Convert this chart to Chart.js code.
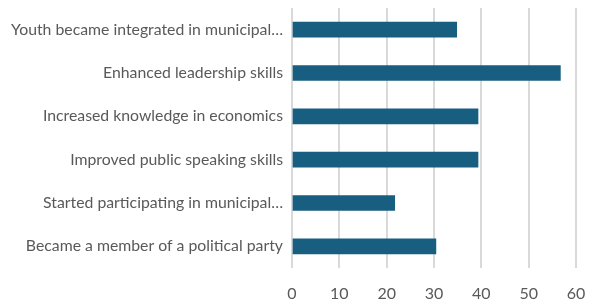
<!DOCTYPE html>
<html>
<head>
<meta charset="utf-8">
<script src="https://cdn.jsdelivr.net/npm/chart.js@4"></script>
<style>
  html, body { margin: 0; padding: 0; background: #fff; }
  #wrap { width: 593px; height: 303px; }
</style>
</head>
<body>
<div id="wrap"><canvas id="chart"></canvas></div>
<script>
const categories = [
  'Youth became integrated in municipal\u2026',
  'Enhanced leadership skills',
  'Increased knowledge in economics',
  'Improved public speaking skills',
  'Started participating in municipal\u2026',
  'Became a member of a political party'
];
const values = [34.8, 56.7, 39.3, 39.3, 21.7, 30.4];
const xTicks = [0, 10, 20, 30, 40, 50, 60];

const ctx = document.getElementById('chart').getContext('2d');
new Chart(ctx, {
  type: 'bar',
  data: {
    labels: categories,
    datasets: [{ data: values, backgroundColor: '#175e80', barThickness: 15 }]
  },
  options: {
    indexAxis: 'y',
    responsive: true,
    maintainAspectRatio: false,
    animation: false,
    layout: { padding: { top: 8, right: 17, left: 0, bottom: 0 } },
    plugins: { legend: { display: false }, tooltip: { enabled: false } },
    scales: {
      x: {
        min: xTicks[0], max: xTicks[xTicks.length - 1],
        afterBuildTicks: s => { s.ticks = xTicks.map(v => ({ value: v })); },
        grid: { color: '#d9d9d9', lineWidth: 2, drawTicks: false },
        border: { display: false },
        ticks: { color: '#595959', font: { family: 'Lato', size: 16 }, padding: 16 },
        afterFit: s => { s.height = 35; s.paddingLeft = 0; s.paddingRight = 0; }
      },
      y: {
        grid: { display: false, drawTicks: false },
        border: { display: false },
        ticks: { color: '#595959', font: { family: 'Lato', size: 15.8 }, padding: 9 },
        afterFit: s => { s.width = 292; s.paddingTop = 0; s.paddingBottom = 0; }
      }
    }
  }
});
</script>
</body>
</html>
